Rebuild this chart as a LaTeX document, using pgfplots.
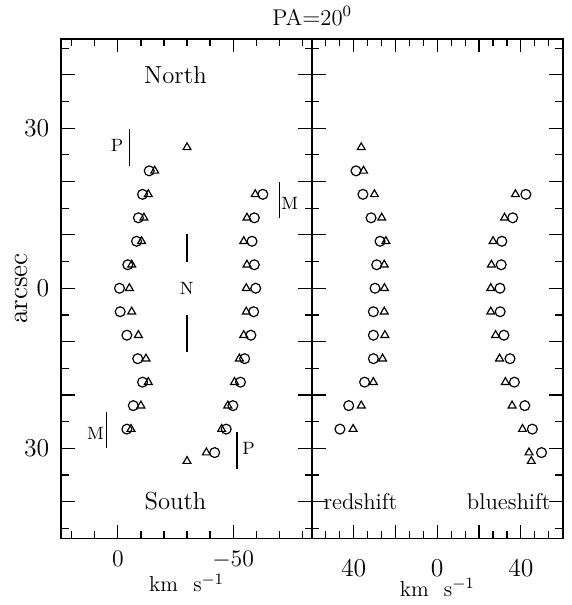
\documentclass[border=0pt]{standalone}
\usepackage{pgfplots}
\pgfplotsset{compat=1.18}

% Velocity of the [NII] and H-alpha components along the slit, PA = 20 deg
\pgfplotstableread{
y     circL  triL   triR   circR
22.0  -13.6  -16.0  nan    nan
17.6  -10.7  -13.2  -59.6  -62.9
13.2   -8.9  -11.3  -56.0  -59.2
8.8    -8.1  -10.3  -54.6  -58.2
4.4    -4.3   -6.0  -56.0  -59.2
0.0    -0.7   -5.0  -55.7  -59.8
-4.4   -1.0   -6.0  -55.7  -58.9
-8.8   -3.9   -8.9  -54.6  -57.7
-13.2  -8.6  -12.2  -52.7  -55.0
-17.6 -10.7  -13.2  -50.6  -53.2
-22.0  -6.7  -10.0  -47.7  -49.9
-26.4  -3.9   -5.7  -45.0  -47.0
-30.8   nan    nan  -38.4  -42.0
}\velobs

% isolated outer knots at the systemic velocity
\pgfplotstableread{
y     v
26.4  -30.0
-32.4 -30.0
}\veltips

% splitting of the two components: redshifted (positive) and blueshifted (negative)
\pgfplotstableread{
y     circR  triR   triB   circB
26.4   nan   36.4   nan    nan
22.0  38.9   35.3   nan    nan
17.6  35.6   30.1  -37.4  -42.4
13.2  31.7   26.6  -32.2  -36.1
8.8   27.4   24.6  -26.7  -30.9
4.4   29.0   25.4  -25.9  -30.6
0.0   29.8   25.3  -25.6  -30.0
-4.4  30.6   25.4  -25.6  -30.1
-8.8  30.6   25.1  -27.9  -31.9
-13.2 30.6   26.2  -29.8  -34.8
-17.6 34.8   30.6  -32.6  -36.9
-22.0 42.4   36.4  -35.8  -41.9
-26.4 46.6   40.3  -40.8  -45.5
-30.8  nan    nan  -43.9  -49.9
-32.4  nan    nan  -45.0   nan
}\velsplit

\begin{document}
\begin{tikzpicture}
\path (0pt,0pt) rectangle (289pt,302.5pt);
\pgfplotsset{
  panel/.style={
    scale only axis, width=126.85pt, height=253pt,
    ymin=-46.9, ymax=46.8,
    x dir=reverse,
    tick align=inside, xtick pos=both, ytick pos=both,
    major tick length=7pt, minor tick length=3.7pt,
    tick style={black, line width=0.6pt},
    axis line style={line width=1pt},
    ytick={-40,-30,...,40}, minor ytick={-45,-35,...,45},
    ticklabel style={font=\fontsize{13}{15}\selectfont},
    clip=false,
  },
  circ/.style={only marks, black, mark=o, mark size=2.5pt,
    mark options={line width=0.6pt}},
  tri/.style={only marks, black, mark=triangle, mark size=2.3pt,
    mark options={line width=0.6pt}},
}

% left panel: observed velocities
\begin{axis}[panel, at={(31pt,33.65pt)}, anchor=south west,
  xmin=-84.2, xmax=24.56,
  xtick={0,-50}, xticklabels={$0$,$-50$},
  minor xtick={20,10,-10,-20,-30,-40,-60,-70,-80},
  xticklabel style={yshift=-3pt},
  yticklabels={{},30,{},{},0,{},{},30,{}},
  yticklabel style={xshift=-2.5pt},
  xlabel={km\hspace{0.7em}s$^{-1}$},
  xlabel style={at={(axis description cs:0.5,-0.107)}, anchor=base,
    font=\fontsize{11}{13}\selectfont},
  ylabel={arcsec},
  ylabel style={at={(axis description cs:-0.158,0.5)}, anchor=center,
    font=\fontsize{14}{16}\selectfont},
]
\addplot[circ] table[x=circL, y=y] {\velobs};
\addplot[tri]  table[x=triL,  y=y] {\velobs};
\addplot[tri]  table[x=triR,  y=y] {\velobs};
\addplot[circ] table[x=circR, y=y] {\velobs};
\addplot[tri]  table[x=v, y=y] {\veltips};

\begin{scope}[line width=0.6pt]
  \draw (axis cs:-5,23) -- (axis cs:-5,29.8);
  \draw (axis cs:-30,4.9) -- (axis cs:-30,10.1);
  \draw (axis cs:-30,-5.1) -- (axis cs:-30,-12);
  \draw (axis cs:-70,13.1) -- (axis cs:-70,20);
  \draw (axis cs:5.1,-23.1) -- (axis cs:5.1,-30);
  \draw (axis cs:-51.7,-27) -- (axis cs:-51.7,-33.9);
\end{scope}
\begin{scope}[every node/.style={font=\fontsize{9}{10}\selectfont, inner sep=0pt}]
  \node at (axis cs:0.3,26.7) {P};
  \node at (axis cs:-29.9,0) {N};
  \node at (axis cs:-74.6,15.9) {M};
  \node at (axis cs:9.7,-27.3) {M};
  \node at (axis cs:-56.7,-30) {P};
\end{scope}
\node[font=\fontsize{12.5}{14}\selectfont, anchor=base] at (axis cs:-25,38.4) {North};
\node[font=\fontsize{12.5}{14}\selectfont, anchor=base] at (axis cs:-25,-41.5) {South};
\end{axis}

% right panel: splitting about the systemic velocity
\begin{axis}[panel, at={(157.85pt,33.65pt)}, anchor=south west,
  xmin=-60, xmax=60,
  xtick={-40,-20,0,20,40}, xticklabels={40,{},0,{},40},
  minor xtick={-53.33,-46.67,-33.33,-26.67,-13.33,-6.67,6.67,13.33,26.67,33.33,46.67,53.33},
  xticklabel style={yshift=-7pt},
  yticklabels={},
  xlabel={km\hspace{0.7em}s$^{-1}$},
  xlabel style={at={(axis description cs:0.5,-0.115)}, anchor=base,
    font=\fontsize{11}{13}\selectfont},
]
\addplot[circ] table[x=circR, y=y] {\velsplit};
\addplot[tri]  table[x=triR,  y=y] {\velsplit};
\addplot[tri]  table[x=triB,  y=y] {\velsplit};
\addplot[circ] table[x=circB, y=y] {\velsplit};
\node[font=\fontsize{11.5}{13}\selectfont, anchor=base] at (axis cs:36.8,-41.4) {redshift};
\node[font=\fontsize{11.5}{13}\selectfont, anchor=base] at (axis cs:-34.2,-41.4) {blueshift};
\end{axis}

\node[font=\fontsize{11.5}{13}\selectfont, anchor=base] at (158pt,293.3pt) {PA$=$20$^0$};
\end{tikzpicture}
\end{document}
